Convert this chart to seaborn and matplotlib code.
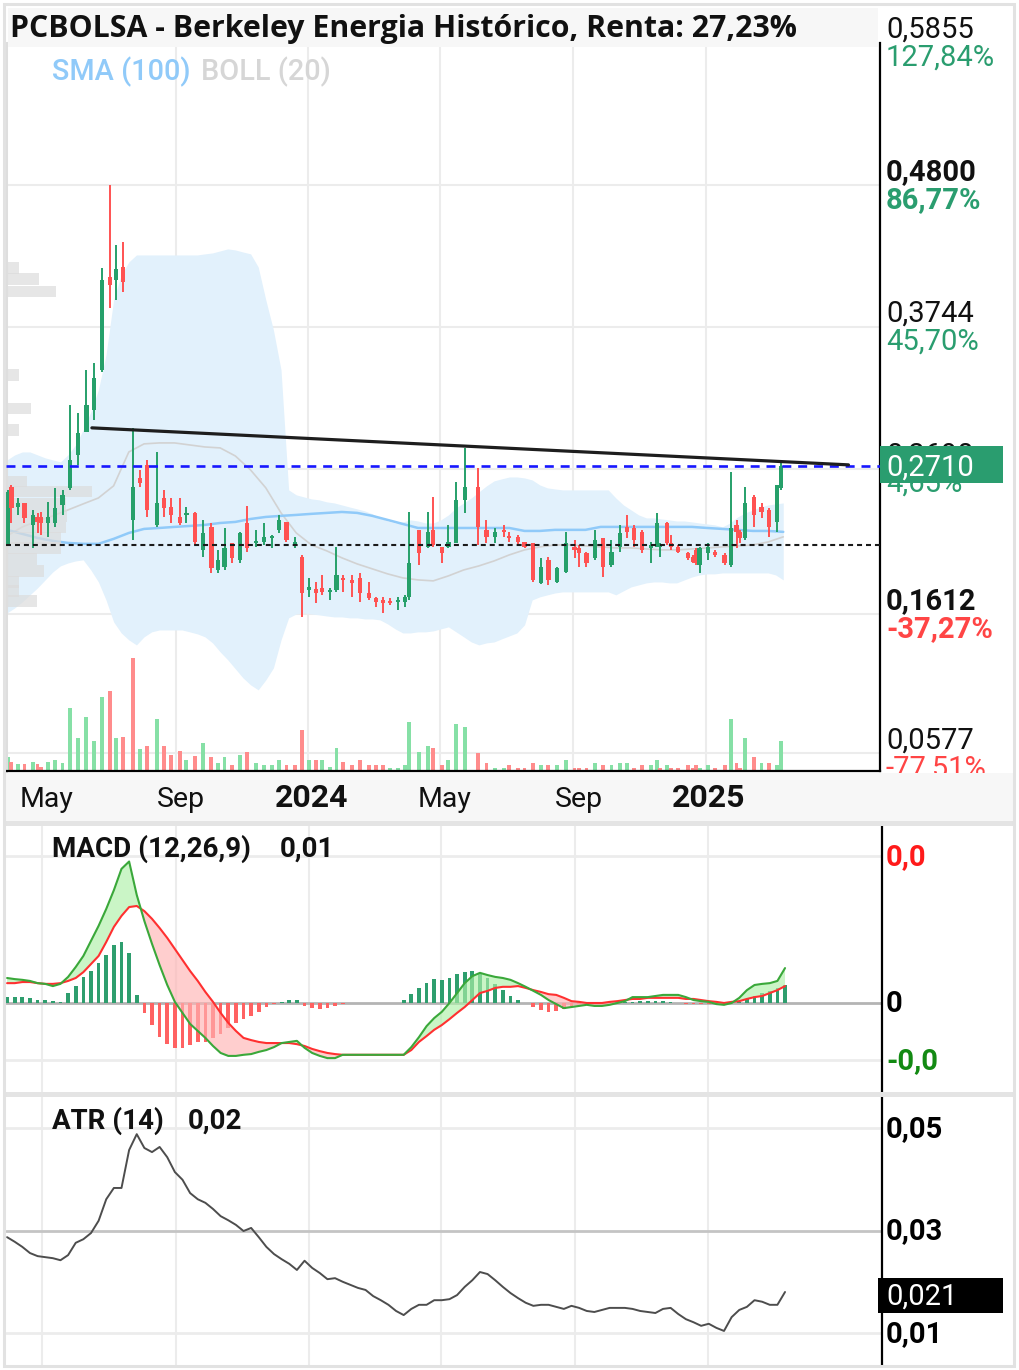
import numpy as np
import pandas as pd
import matplotlib
matplotlib.use("Agg")
import matplotlib.pyplot as plt
import matplotlib.dates as mdates
import matplotlib.transforms as mtransforms
from matplotlib.patches import Rectangle
import seaborn as sns

# ---------------------------------------------------------------- data
candle_dates = [
    "2023-03-31", "2023-04-03", "2023-04-09", "2023-04-15", "2023-04-23", "2023-04-27", "2023-04-30", "2023-05-07", "2023-05-13", "2023-05-20",
    "2023-05-27", "2023-06-03", "2023-06-11", "2023-06-18", "2023-06-25", "2023-07-03", "2023-07-08", "2023-07-15", "2023-07-24", "2023-07-30",
    "2023-08-06", "2023-08-15", "2023-08-21", "2023-08-28", "2023-09-05", "2023-09-11", "2023-09-19", "2023-09-26", "2023-10-04", "2023-10-10",
    "2023-10-16", "2023-10-23", "2023-10-30", "2023-11-06", "2023-11-14", "2023-11-21", "2023-11-29", "2023-12-05", "2023-12-12", "2023-12-20",
    "2023-12-26", "2024-01-02", "2024-01-08", "2024-01-14", "2024-01-21", "2024-01-27", "2024-02-02", "2024-02-10", "2024-02-18", "2024-02-26",
    "2024-03-03", "2024-03-10", "2024-03-16", "2024-03-24", "2024-03-30", "2024-04-03", "2024-04-12", "2024-04-20", "2024-04-25", "2024-05-03",
    "2024-05-09", "2024-05-16", "2024-05-24", "2024-06-05", "2024-06-13", "2024-06-21", "2024-06-29", "2024-07-04", "2024-07-12", "2024-07-18",
    "2024-07-26", "2024-08-02", "2024-08-09", "2024-08-17", "2024-08-25", "2024-09-02", "2024-09-06", "2024-09-13", "2024-09-21", "2024-09-28",
    "2024-10-06", "2024-10-14", "2024-10-20", "2024-10-27", "2024-11-03", "2024-11-11", "2024-11-17", "2024-11-20", "2024-11-26", "2024-11-30",
    "2024-12-06", "2024-12-15", "2024-12-20", "2024-12-23", "2024-12-26", "2025-01-03", "2025-01-09", "2025-01-18", "2025-01-24", "2025-01-29",
    "2025-02-01", "2025-02-06", "2025-02-14", "2025-02-21", "2025-02-28", "2025-03-07", "2025-03-11"]

opens = [.2125, .2556, .2407, .2437, .2274, .2333, .2333, .2288, .2288, .2422,
         .2549, .2794, .2965, .3128, .3426, .4117, .4094, .4191, .2311, .2623,
         .2720, .2274, .2474, .2407, .2333, .2348, .2363, .2088, .2259, .1939,
         .1962, .2140, .2014, .2288, .2140, .2147, .2177, .2237, .2296, .2125,
         .2036, .1791, .1798, .1806, .1776, .1791, .1880, .1865, .1880, .1768,
         .1731, .1716, .1709, .1702, .1702, .1739, .2237, .2110, .2237, .2110,
         .2110, .2140, .2460, .2556, .2237, .2185, .2237, .2185, .2185, .2147,
         .2140, .1843, .2014, .1850, .1924, .2110, .2103, .2066, .2029, .2177,
         .1977, .2110, .2259, .2251, .2222, .2103, .2110, .2110, .2288, .2140,
         .2110, .2066, .2036, .2088, .1977, .2066, .2073, .2051, .1977, .2274,
         .2222, .2177, .2482, .2407, .2385, .2296, .2549]
highs = [.2534, .2571, .2474, .2437, .2385, .2363, .2370, .2445, .2549, .2534,
         .3165, .3106, .3426, .3478, .4183, .4800, .4354, .4377, .2995, .2682,
         .2757, .2816, .2534, .2474, .2474, .2407, .2370, .2311, .2288, .2088,
         .2251, .2140, .2222, .2415, .2237, .2288, .2199, .2348, .2296, .2185,
         .2051, .1880, .1850, .1902, .1806, .2110, .1902, .1902, .1917, .1850,
         .1739, .1739, .1731, .1739, .1754, .2370, .2237, .2370, .2482, .2110,
         .2274, .2593, .2846, .2697, .2311, .2251, .2274, .2222, .2199, .2147,
         .2140, .2029, .2036, .1962, .2222, .2162, .2125, .2073, .2237, .2177,
         .2162, .2274, .2348, .2274, .2237, .2147, .2363, .2140, .2296, .2199,
         .2125, .2073, .2051, .2103, .2110, .2140, .2088, .2066, .2668, .2311,
         .2237, .2556, .2497, .2437, .2400, .2571, .2757]
lows = [.2125, .2288, .2348, .2288, .2103, .2214, .2199, .2185, .2259, .2348,
        .2534, .2720, .2965, .3054, .3411, .3886, .3946, .4005, .2162, .2556,
        .2333, .2259, .2333, .2288, .2274, .2288, .2125, .2036, .1917, .1917,
        .1939, .1991, .1991, .2073, .2110, .2125, .2103, .2214, .2147, .2103,
        .1590, .1739, .1694, .1754, .1716, .1776, .1776, .1739, .1702, .1716,
        .1664, .1620, .1679, .1642, .1664, .1716, .1977, .2103, .2110, .1991,
        .2103, .2140, .2363, .2125, .2140, .2140, .2185, .2147, .2125, .2103,
        .1850, .1835, .1828, .1843, .1917, .2029, .1962, .1962, .2014, .1887,
        .1962, .2073, .2177, .2110, .2066, .1991, .2110, .2036, .2125, .2088,
        .2066, .2014, .1991, .1977, .1917, .2014, .2036, .1977, .1962, .2103,
        .2140, .2162, .2259, .2326, .2185, .2222, .2534]
closes = [.2519, .2400, .2437, .2326, .2348, .2296, .2288, .2333, .2400, .2497,
          .2757, .2957, .3165, .3366, .4094, .4057, .4176, .4079, .2556, .2586,
          .2385, .2437, .2400, .2348, .2288, .2363, .2147, .2214, .1954, .2014,
          .2103, .2029, .2214, .2103, .2155, .2185, .2185, .2311, .2162, .2147,
          .1768, .1813, .1768, .1776, .1791, .1902, .1865, .1843, .1768, .1731,
          .1702, .1694, .1694, .1716, .1739, .1991, .2066, .2222, .2125, .2066,
          .2147, .2460, .2556, .2259, .2185, .2222, .2222, .2177, .2147, .2110,
          .1865, .1962, .1865, .1954, .2140, .2088, .2066, .1991, .2162, .1962,
          .2073, .2214, .2222, .2162, .2088, .2125, .2288, .2125, .2140, .2110,
          .2073, .2029, .1999, .1991, .2103, .2110, .2051, .1991, .2251, .2222,
          .2177, .2437, .2348, .2370, .2259, .2571, .2710]
volumes = [13, 8, 6, 6, 8, 6, 3, 8, 10, 7,
           62, 32, 53, 29, 73, 79, 32, 33, 112, 21,
           24, 51, 24, 15, 19, 10, 14, 27, 13, 7,
           13, 5, 15, 18, 7, 5, 5, 10, 5, 5,
           40, 10, 10, 10, 3, 22, 8, 5, 10, 5,
           5, 5, 2, 2, 5, 48, 18, 24, 22, 5,
           10, 46, 43, 17, 7, 2, 2, 5, 2, 2,
           7, 5, 5, 5, 10, 2, 2, 2, 7, 5,
           5, 7, 7, 2, 5, 5, 10, 2, 5, 2,
           2, 5, 2, 5, 2, 5, 2, 5, 51, 7,
           2, 32, 13, 7, 7, 5, 29]

# volume profile (price level, relative volume)
profile_levels = [.4183, .4102, .4009, .3388, .3139, .2980, .2597, .2523, .2430,
                  .2341, .2255, .2177, .2103, .2021, .1932, .1850, .1784, .1709]
profile_volume = [13, 33, 50, 13, 25, 13, 21, 86, 60, 61, 60, 55, 55, 31, 38, 13, 13, 31]

# weekly indicator samples (start 2023-03-30, every 7 days)
bb_upper = [.2757, .2794, .2816, .2816, .2794, .2772, .2757, .2742, .2794, .2868,
            .2980, .3113, .3277, .3537, .3946, .4131, .4228, .4280, .4280, .4280,
            .4280, .4280, .4280, .4280, .4280, .4280, .4288, .4295, .4310, .4325,
            .4317, .4302, .4288, .4191, .3946, .3723, .3426, .2534, .2497, .2482,
            .2467, .2460, .2445, .2437, .2422, .2407, .2393, .2378, .2356, .2326,
            .2303, .2288, .2296, .2311, .2303, .2288, .2288, .2311, .2348, .2400,
            .2437, .2474, .2519, .2564, .2601, .2616, .2630, .2630, .2623, .2608,
            .2571, .2549, .2541, .2534, .2534, .2534, .2534, .2534, .2534, .2534,
            .2474, .2422, .2385, .2348, .2326, .2326, .2318, .2311, .2303, .2303,
            .2296, .2288, .2281, .2274, .2259, .2288, .2333, .2363, .2385, .2407,
            .2422, .2430, .2437]
bb_lower = [.1620, .1657, .1702, .1754, .1806, .1865, .1924, .1969, .1991, .2006,
            .2014, .1939, .1850, .1716, .1553, .1471, .1419, .1382, .1442, .1479,
            .1493, .1493, .1493, .1493, .1479, .1464, .1442, .1397, .1330, .1271,
            .1204, .1137, .1085, .1048, .1122, .1211, .1419, .1583, .1612, .1620,
            .1612, .1605, .1597, .1590, .1590, .1583, .1583, .1575, .1575, .1568,
            .1538, .1501, .1471, .1471, .1479, .1479, .1486, .1501, .1516, .1479,
            .1442, .1404, .1382, .1397, .1404, .1427, .1449, .1471, .1531, .1716,
            .1739, .1754, .1768, .1776, .1776, .1776, .1776, .1776, .1776, .1776,
            .1754, .1784, .1813, .1828, .1843, .1850, .1850, .1843, .1843, .1865,
            .1887, .1902, .1910, .1910, .1917, .1917, .1917, .1917, .1917, .1917,
            .1917, .1902, .1865]
macd_line = [.0068, .0065, .0063, .0060, .0054, .0052, .0046, .0052, .0071, .0098,
             .0128, .0169, .0210, .0256, .0307, .0365, .0385, .0294, .0223, .0161,
             .0103, .0049, .0003, -.0027, -.0057, -.0076, -.0095, -.0117, -.0136, -.0144,
             -.0144, -.0141, -.0139, -.0133, -.0128, -.0120, -.0109, -.0106, -.0103, -.0122,
             -.0136, -.0144, -.0150, -.0150, -.0141, -.0141, -.0141, -.0141, -.0141, -.0141,
             -.0141, -.0141, -.0141, -.0120, -.0093, -.0063, -.0041, -.0024, .0000, .0027,
             .0054, .0073, .0082, .0076, .0071, .0068, .0063, .0054, .0044, .0033,
             .0022, .0008, -.0003, -.0014, -.0011, -.0008, -.0005, -.0008, -.0008, -.0005,
             .0000, .0005, .0016, .0016, .0016, .0019, .0022, .0022, .0022, .0016,
             .0008, .0005, .0003, -.0003, -.0005, .0000, .0014, .0035, .0049, .0052,
             .0054, .0060, .0095]
signal_line = [.0054, .0054, .0057, .0057, .0054, .0052, .0052, .0054, .0060, .0068,
               .0084, .0106, .0128, .0166, .0207, .0237, .0261, .0264, .0250, .0229,
               .0204, .0177, .0147, .0117, .0087, .0060, .0030, .0003, -.0027, -.0054,
               -.0076, -.0095, -.0101, -.0106, -.0109, -.0109, -.0109, -.0109, -.0112, -.0117,
               -.0125, -.0131, -.0136, -.0139, -.0141, -.0141, -.0141, -.0141, -.0141, -.0141,
               -.0141, -.0141, -.0141, -.0128, -.0106, -.0090, -.0073, -.0060, -.0044, -.0027,
               -.0011, .0008, .0027, .0033, .0041, .0044, .0044, .0046, .0041, .0035,
               .0030, .0024, .0022, .0014, .0005, .0003, .0000, .0000, .0000, .0003,
               .0005, .0008, .0011, .0011, .0014, .0014, .0014, .0014, .0014, .0011,
               .0011, .0008, .0005, .0003, .0000, .0003, .0005, .0011, .0016, .0019,
               .0027, .0035, .0046]
macd_hist = [.0016, .0016, .0016, .0014, .0008, .0008, .0005, .0003, .0027, .0046,
             .0071, .0087, .0109, .0131, .0158, .0166, .0136, .0022, -.0027, -.0060,
             -.0093, -.0112, -.0122, -.0122, -.0114, -.0106, -.0106, -.0095, -.0084, -.0068,
             -.0054, -.0044, -.0035, -.0024, -.0011, -.0003, .0003, .0008, .0008, -.0008,
             -.0014, -.0016, -.0014, -.0008, -.0003, .0000, .0000, .0000, .0000, .0000,
             .0000, .0000, .0008, .0024, .0041, .0054, .0065, .0063, .0068, .0079,
             .0084, .0087, .0082, .0068, .0052, .0035, .0019, .0008, .0000, -.0011,
             -.0019, -.0024, -.0022, -.0016, -.0008, -.0003, .0000, .0000, .0003, .0003,
             .0003, .0003, .0003, .0005, .0005, .0005, .0005, .0003, .0000, -.0003,
             -.0003, -.0003, -.0003, -.0003, .0000, .0000, .0003, .0011, .0019, .0027,
             .0033, .0041, .0049]
atr_line = [.0287, .0278, .0268, .0256, .0250, .0248, .0246, .0242, .0252, .0276,
            .0283, .0295, .0319, .0361, .0383, .0383, .0457, .0488, .0461, .0453,
            .0463, .0443, .0414, .0399, .0373, .0361, .0354, .0342, .0328, .0320,
            .0311, .0299, .0305, .0287, .0268, .0254, .0244, .0235, .0223, .0241,
            .0227, .0217, .0205, .0207, .0200, .0194, .0188, .0184, .0172, .0164,
            .0155, .0143, .0135, .0147, .0155, .0155, .0164, .0164, .0166, .0174,
            .0190, .0203, .0219, .0215, .0203, .0190, .0178, .0168, .0159, .0153,
            .0155, .0155, .0151, .0147, .0153, .0149, .0143, .0141, .0145, .0149,
            .0149, .0149, .0147, .0143, .0141, .0139, .0147, .0149, .0137, .0127,
            .0121, .0114, .0118, .0110, .0104, .0131, .0145, .0151, .0164, .0161,
            .0155, .0155, .0180]

# bi-weekly samples (start 2023-03-30, every 14 days)
bb_middle = [.2192, .2259, .2303, .2341, .2385, .2430, .2474, .2564, .2816, .2876,
             .2883, .2883, .2868, .2853, .2846, .2786, .2682, .2549, .2363, .2214,
             .2125, .2081, .2029, .1984, .1947, .1910, .1880, .1865, .1858, .1895,
             .1939, .1969, .2006, .2051, .2088, .2110, .2125, .2125, .2118, .2110,
             .2103, .2103, .2095, .2088, .2088, .2095, .2103, .2110, .2118, .2125,
             .2147, .2185]
sma_100 = [.2237, .2207, .2177, .2155, .2140, .2133, .2133, .2170, .2214, .2244,
           .2251, .2259, .2266, .2274, .2288, .2296, .2318, .2333, .2341, .2348,
           .2356, .2363, .2370, .2363, .2341, .2311, .2281, .2251, .2251, .2251,
           .2251, .2251, .2251, .2251, .2229, .2229, .2237, .2237, .2237, .2259,
           .2259, .2259, .2259, .2259, .2259, .2259, .2251, .2244, .2237, .2229,
           .2229, .2222]

price_ticks = [0.5855, 0.4800, 0.3744, 0.2690, 0.1612, 0.0577]
pct_labels = ["127,84%", "86,77%", "45,70%", "4,65%", "-37,27%", "-77,51%"]
bold_ticks = [False, True, False, False, True, False]
last_price = 0.2710
support_level = 0.2125
trend_dates = ["2023-06-16", "2025-05-12"]
trend_prices = [0.2995, 0.2720]
month_ticks = ["2023-05-01", "2023-09-01", "2024-01-01", "2024-05-01", "2024-09-01", "2025-01-01"]
month_labels = ["May", "Sep", "2024", "May", "Sep", "2025"]
macd_levels = [0.040, 0.0, -0.0155]
macd_level_labels = ["0,0", "0", "-0,0"]
atr_levels = [0.05, 0.03, 0.01]
atr_level_labels = ["0,05", "0,03", "0,01"]

# ---------------------------------------------------------------- style
sns.set_theme(style="white")
plt.rcParams['font.family'] = ['Roboto', 'DejaVu Sans']

GREEN = '#26a06a'
RED = '#ff5252'
VGREEN = '#86e0a6'
VRED = '#ff8c8c'
PCT_GREEN = '#2a9d6f'
PCT_RED = '#ff4545'
GRID = '#ececec'
LBL = 21

W, H, DPI = 1019, 1370, 100
fig = plt.figure(figsize=(W / DPI, H / DPI), dpi=DPI)
fig.patch.set_facecolor('white')


def add_ax(l, t, r, b):
    return fig.add_axes([l / W, 1 - b / H, (r - l) / W, (b - t) / H])


def fy(px):
    return 1 - px / H


num = lambda s: mdates.date2num(pd.to_datetime(s))
XL = (num("2023-03-29"), num("2025-06-10"))

ax = add_ax(6, 43, 880, 771)
axm = add_ax(6, 826, 882, 1092)
axa = add_ax(6, 1097, 882, 1365)
axd = add_ax(6, 773, 1013, 821)

for a in (ax, axm, axa):
    a.set_facecolor('white')
    a.set_xticks([])
    a.set_yticks([])
    for s in a.spines.values():
        s.set_visible(False)
    a.spines['right'].set_visible(True)
    a.spines['right'].set_color('black')
    a.spines['right'].set_linewidth(1.6)
ax.spines['bottom'].set_visible(True)
ax.spines['bottom'].set_color('black')
ax.spines['bottom'].set_linewidth(1.6)
ax.spines['left'].set_visible(True)
ax.spines['left'].set_color('#dedede')
ax.spines['left'].set_linewidth(2.2)

# ---------------------------------------------------------------- main panel
d_num = num(candle_dates)
o, h, l, c = (np.array(v, float) for v in (opens, highs, lows, closes))
wk = num(pd.date_range("2023-03-30", periods=len(bb_upper), freq="7D"))
bw = num(pd.date_range("2023-03-30", periods=len(bb_middle), freq="14D"))

for t in price_ticks[1:]:
    ax.axhline(t, color=GRID, lw=1.5, zorder=0.5)
for m in month_ticks[1:]:
    ax.axvline(num(m), color=GRID, lw=1.5, zorder=0.5)

ax.fill_between(wk, bb_lower, bb_upper, color='#e2f1fc', lw=0, zorder=1)
sns.lineplot(x=bw, y=bb_middle, ax=ax, color='#d2d2d2', lw=1.2, zorder=1.5, legend=False)
sns.lineplot(x=bw, y=sma_100, ax=ax, color='#90caf9', lw=1.8, zorder=2, legend=False)

# volume profile (left)
pv = np.array(profile_volume, float)
ax.barh(profile_levels, pv / pv.max() * (86 / 874), left=0, height=0.0085,
        transform=ax.get_yaxis_transform(), color='#dcdcdc', alpha=0.7, lw=0, zorder=2.5)

# volume bars (bottom)
vol = np.array(volumes, float)
prev = np.r_[o[0], c[:-1]]
vcol = np.where(c >= prev, VGREEN, VRED)
ax.bar(d_num, vol / vol.max() * (112 / 728), bottom=1 / 728, width=3.6, color=vcol, lw=0,
       transform=ax.get_xaxis_transform(), zorder=2.2)

# candles
col = np.where(c >= o, GREEN, RED)
ax.vlines(d_num, l, h, colors=col, lw=1.4, zorder=4)
ax.bar(d_num, np.maximum(np.abs(c - o), 0.0013), bottom=np.minimum(o, c), width=3.8,
       color=col, lw=0, zorder=4.5)

ax.axhline(last_price, color='#1717ff', lw=1.9, ls=(0, (3.4, 2.6)), zorder=5)
ax.axhline(support_level, color='#1a1a1a', lw=1.5, ls=(0, (2.4, 1.9)), zorder=5)
ax.plot(num(trend_dates), trend_prices, color='#1e1e1e', lw=2.3, solid_capstyle='round', zorder=6)

ax.set_xlim(*XL)
ax.set_ylim(0.0445, 0.5855)
ax.set_xlabel('')
ax.set_ylabel('')

ytr = mtransforms.blended_transform_factory(fig.transFigure, ax.transData)


def off(tr, dx=0, dy=0):
    return mtransforms.offset_copy(tr, fig=fig, x=dx, y=dy, units='dots')


for p, pct, b in zip(price_ticks, pct_labels, bold_ticks):
    ax.text(886 / W, p, f"{p:.4f}".replace('.', ','), transform=off(ytr, dy=5), ha='left',
            va='baseline', fontsize=LBL, fontweight='bold' if b else 'normal', color='#111111',
            clip_on=False, zorder=10)
    ax.text(886 / W, p, pct, transform=off(ytr, dy=-23), ha='left', va='baseline',
            fontsize=LBL, fontweight='bold' if b else 'normal',
            color=PCT_RED if pct.startswith('-') else PCT_GREEN, clip_on=False, zorder=10)

px_per_unit = 728 / (0.5855 - 0.0445)
ax.add_patch(Rectangle((880 / W, last_price - 16.5 / px_per_unit), 123 / W, 37 / px_per_unit,
                       transform=ytr, facecolor=PCT_GREEN, edgecolor='none', clip_on=False, zorder=11))
ax.text(886 / W, last_price, f"{last_price:.4f}".replace('.', ','), transform=off(ytr, dy=-9),
        ha='left', va='baseline', fontsize=LBL, color='white', clip_on=False, zorder=12)

# ---------------------------------------------------------------- date band
axd.set_facecolor('#f7f7f7')
axd.set_xticks([])
axd.set_yticks([])
for s in axd.spines.values():
    s.set_visible(False)
dtr = mtransforms.blended_transform_factory(ax.transData, fig.transFigure)
for m, lab in zip(month_ticks, month_labels):
    is_year = lab.isdigit()
    axd.text(num(m), fy(807), lab, transform=off(dtr, dx=3 if is_year else 5), ha='center',
             va='baseline', fontsize=23 if is_year else 20.5,
             fontweight='bold' if is_year else 'normal', color='#111111')

# ---------------------------------------------------------------- MACD panel
for m in month_ticks:
    axm.axvline(num(m), color=GRID, lw=1.5, zorder=0.5)
axm.axhline(macd_levels[0], color=GRID, lw=2, zorder=0.5)
axm.axhline(macd_levels[2], color=GRID, lw=2, zorder=0.5)
axm.axhline(0, color='#b4b4b4', lw=2, zorder=0.6)
hist = np.array(macd_hist)
axm.bar(wk, hist, width=3.4, color=np.where(hist >= 0, '#2e9e6e', '#ff6262'), lw=0, zorder=1)
mac = np.array(macd_line)
sig = np.array(signal_line)
axm.fill_between(wk, mac, sig, where=mac >= sig, interpolate=True, color='#aef0a8', alpha=0.65, lw=0, zorder=2)
axm.fill_between(wk, mac, sig, where=mac < sig, interpolate=True, color='#ffb4b4', alpha=0.65, lw=0, zorder=2)
dfm = pd.DataFrame({'x': wk, 'macd': mac, 'signal': sig})
sns.lineplot(data=dfm, x='x', y='signal', ax=axm, color='#ff3030', lw=1.5, zorder=3, legend=False)
sns.lineplot(data=dfm, x='x', y='macd', ax=axm, color='#3aa83a', lw=1.5, zorder=3.5, legend=False)
axm.set_xlim(*XL)
axm.set_ylim(-0.02422, 0.04816)
axm.set_xlabel('')
axm.set_ylabel('')
mtr = mtransforms.blended_transform_factory(fig.transFigure, axm.transData)
for v, lab, cc in zip(macd_levels, macd_level_labels, ['#ff1a1a', '#000000', '#138a13']):
    axm.text(886 / W, v, lab, transform=off(mtr, dy=-9), ha='left', va='baseline', fontsize=LBL,
             fontweight='bold', color=cc, clip_on=False)

# ---------------------------------------------------------------- ATR panel
for m in month_ticks:
    axa.axvline(num(m), color=GRID, lw=1.5, zorder=0.5)
axa.axhline(atr_levels[0], color=GRID, lw=2, zorder=0.5)
axa.axhline(atr_levels[2], color=GRID, lw=2, zorder=0.5)
axa.axhline(atr_levels[1], color='#c4c4c4', lw=2, zorder=0.6)
sns.lineplot(x=wk, y=atr_line, ax=axa, color='#4d4d4d', lw=1.4, zorder=3, legend=False)
axa.set_xlim(*XL)
axa.set_ylim(0.003756, 0.05605)
axa.set_xlabel('')
axa.set_ylabel('')
atr_tr = mtransforms.blended_transform_factory(fig.transFigure, axa.transData)
for v, lab in zip(atr_levels, atr_level_labels):
    axa.text(886 / W, v, lab, transform=off(atr_tr, dy=-9), ha='left', va='baseline', fontsize=LBL,
             fontweight='bold', color='#000000', clip_on=False)
atr_ppu = 268 / (0.05605 - 0.003756)
last_atr = atr_line[-1]
axa.add_patch(Rectangle((878 / W, last_atr - 21 / atr_ppu), 125 / W, 35 / atr_ppu,
                        transform=atr_tr, facecolor='black', edgecolor='none', clip_on=False, zorder=11))
axa.text(886 / W, last_atr, "0,021", transform=off(atr_tr, dy=-13), ha='left', va='baseline',
         fontsize=LBL, color='white', clip_on=False, zorder=12)

# ---------------------------------------------------------------- frame, title, legends
fig.patches.append(Rectangle((8 / W, fy(47)), 870 / W, 39 / H, transform=fig.transFigure,
                             facecolor='#f7f7f7', edgecolor='none', zorder=1))
for top, bot in ((821, 826), (1092, 1097)):
    fig.patches.append(Rectangle((4 / W, fy(bot)), 1010 / W, (bot - top) / H,
                                 transform=fig.transFigure, facecolor='#e4e4e4', edgecolor='none', zorder=1))
fig.patches.append(Rectangle((4 / W, 4 / H), 1010 / W, 1 - 8 / H, transform=fig.transFigure,
                             facecolor='none', edgecolor='#e2e2e2', lw=2.2, zorder=1))

fig.text(10 / W, fy(37), "PCBOLSA - Berkeley Energia Histórico, Renta: 27,23%",
         family=['Open Sans', 'DejaVu Sans'], fontweight='bold', fontsize=21.8,
         ha='left', va='baseline', color='#111111')
fig.text(52 / W, fy(80), "SMA (100)", fontsize=20.8, fontweight='medium', color='#90caf9',
         ha='left', va='baseline')
fig.text(201 / W, fy(80), "BOLL (20)", fontsize=20.8, fontweight='medium', color='#d6d6d6',
         ha='left', va='baseline')
fig.text(52 / W, fy(857), "MACD (12,26,9)", fontsize=20, fontweight='bold', color='#111111',
         ha='left', va='baseline')
fig.text(280 / W, fy(857), "0,01", fontsize=20, fontweight='bold', color='#111111',
         ha='left', va='baseline')
fig.text(52 / W, fy(1129), "ATR (14)", fontsize=20, fontweight='bold', color='#111111',
         ha='left', va='baseline')
fig.text(188 / W, fy(1129), "0,02", fontsize=20, fontweight='bold', color='#111111',
         ha='left', va='baseline')

fig.savefig("out.png", dpi=DPI)
